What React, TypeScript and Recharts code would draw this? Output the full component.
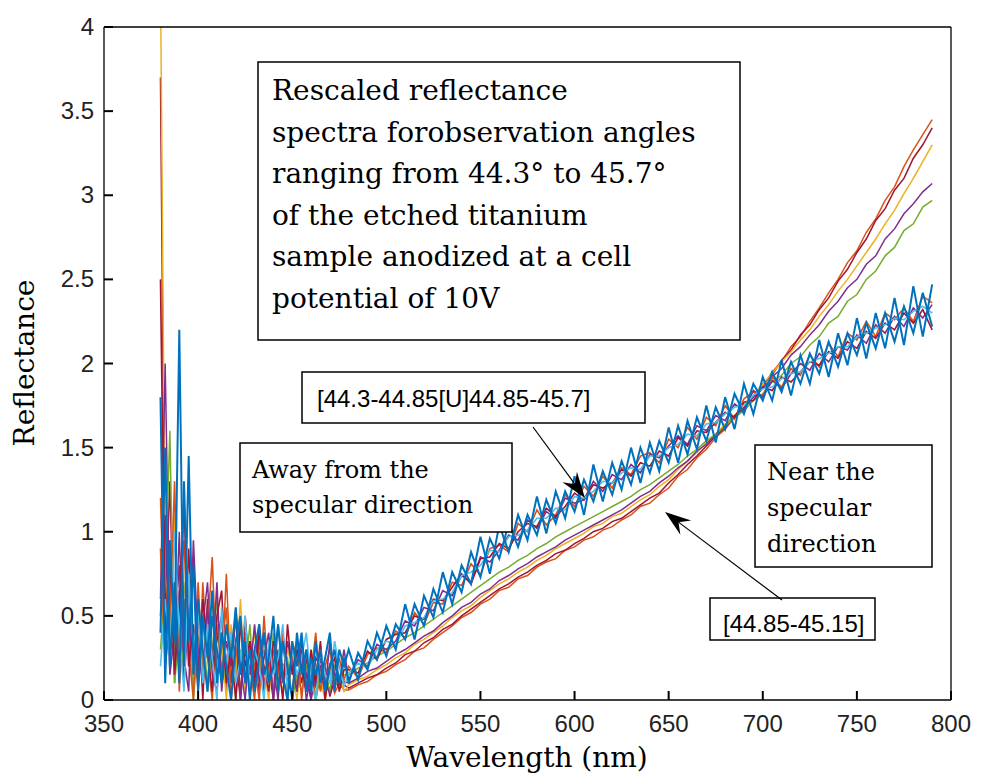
import { Line, LineChart, XAxis, YAxis } from 'recharts'

// wavelength grid: 2.5 nm steps in the noisy blue end, 5 nm after that
const wavelengths = [
  380, 382.5, 385, 387.5, 390, 392.5, 395, 397.5, 400, 402.5,
  405, 407.5, 410, 412.5, 415, 417.5, 420, 422.5, 425, 427.5,
  430, 432.5, 435, 437.5, 440, 442.5, 445, 447.5, 450, 452.5,
  455, 457.5, 460, 462.5, 465, 467.5, 470, 472.5, 475, 477.5,
  480, 485, 490, 495, 500, 505, 510, 515, 520, 525,
  530, 535, 540, 545, 550, 555, 560, 565, 570, 575,
  580, 585, 590, 595, 600, 605, 610, 615, 620, 625,
  630, 635, 640, 645, 650, 655, 660, 665, 670, 675,
  680, 685, 690, 695, 700, 705, 710, 715, 720, 725,
  730, 735, 740, 745, 750, 755, 760, 765, 770, 775,
  780, 785, 790,
]

// near the specular direction [44.85-45.15]
const nearOrange = [
  1.2, 0.3, 0.85, 0.1, 0.6, 0.95, 0.2, 0.4, 0.05, 0.7,
  0.25, 0.0, 0.45, 0.15, 0.75, 0.1, 0.3, 0.05, 0.4, 0.2,
  0.0, 0.35, 0.1, 0.25, 0.05, 0.45, 0.15, 0.0, 0.3, 0.1,
  0.2, 0.05, 0.28, 0.0, 0.15, 0.08, 0.22, 0.04, 0.1, 0.06,
  0.06, 0.09, 0.11, 0.15, 0.17, 0.21, 0.24, 0.29, 0.31, 0.36,
  0.4, 0.44, 0.49, 0.52, 0.57, 0.6, 0.65, 0.67, 0.72, 0.74,
  0.79, 0.82, 0.84, 0.89, 0.91, 0.95, 0.97, 1.01, 1.03, 1.07,
  1.1, 1.15, 1.17, 1.22, 1.26, 1.33, 1.37, 1.44, 1.49, 1.56,
  1.61, 1.68, 1.73, 1.81, 1.86, 1.95, 2.01, 2.1, 2.16, 2.25,
  2.33, 2.42, 2.5, 2.6, 2.67, 2.78, 2.86, 2.97, 3.05, 3.17,
  3.27, 3.36, 3.45,
]
const nearRed = [
  3.7, 0.5, 1.3, 0.2, 0.65, 0.1, 0.9, 0.3, 0.55, 0.0,
  0.6, 0.2, 0.35, 0.5, 0.05, 0.4, 0.25, 0.0, 0.5, 0.15,
  0.3, 0.05, 0.4, 0.2, 0.0, 0.25, 0.35, 0.1, 0.05, 0.3,
  0.1, 0.25, 0.0, 0.18, 0.06, 0.2, 0.02, 0.12, 0.07, 0.09,
  0.07, 0.1, 0.13, 0.15, 0.19, 0.22, 0.27, 0.29, 0.34, 0.37,
  0.42, 0.45, 0.5, 0.54, 0.58, 0.62, 0.66, 0.69, 0.73, 0.76,
  0.8, 0.83, 0.87, 0.89, 0.93, 0.96, 1.0, 1.02, 1.06, 1.08,
  1.12, 1.16, 1.2, 1.23, 1.29, 1.34, 1.4, 1.45, 1.51, 1.57,
  1.62, 1.69, 1.74, 1.8, 1.88, 1.93, 2.02, 2.08, 2.17, 2.23,
  2.32, 2.39, 2.49, 2.56, 2.66, 2.74, 2.85, 2.92, 3.03, 3.1,
  3.22, 3.3, 3.4,
]
const nearYellow = [
  4.3, 0.8, 0.3, 1.1, 0.15, 0.7, 0.4, 0.05, 0.6, 0.25,
  0.1, 0.55, 0.2, 0.35, 0.0, 0.45, 0.15, 0.6, 0.05, 0.25,
  0.4, 0.1, 0.2, 0.0, 0.35, 0.15, 0.05, 0.3, 0.2, 0.0,
  0.25, 0.1, 0.05, 0.22, 0.12, 0.0, 0.18, 0.08, 0.14, 0.05,
  0.09, 0.12, 0.14, 0.18, 0.21, 0.25, 0.28, 0.33, 0.36, 0.4,
  0.44, 0.49, 0.53, 0.56, 0.61, 0.65, 0.69, 0.72, 0.76, 0.79,
  0.83, 0.86, 0.9, 0.93, 0.96, 0.99, 1.03, 1.05, 1.09, 1.11,
  1.15, 1.19, 1.22, 1.27, 1.31, 1.37, 1.42, 1.47, 1.53, 1.58,
  1.64, 1.69, 1.76, 1.81, 1.88, 1.94, 2.01, 2.07, 2.14, 2.2,
  2.28, 2.35, 2.43, 2.5, 2.58, 2.66, 2.74, 2.83, 2.91, 3.01,
  3.1, 3.2, 3.3,
]
const nearPurple = [
  0.6, 2.0, 0.4, 0.25, 1.0, 0.1, 0.5, 0.85, 0.2, 0.45,
  0.7, 0.15, 0.05, 0.4, 0.25, 0.1, 0.55, 0.2, 0.0, 0.35,
  0.15, 0.45, 0.05, 0.3, 0.2, 0.0, 0.4, 0.15, 0.25, 0.05,
  0.3, 0.0, 0.15, 0.08, 0.25, 0.1, 0.04, 0.16, 0.09, 0.11,
  0.1, 0.13, 0.17, 0.19, 0.23, 0.27, 0.3, 0.34, 0.38, 0.41,
  0.46, 0.5, 0.55, 0.58, 0.63, 0.66, 0.71, 0.74, 0.78, 0.81,
  0.85, 0.88, 0.91, 0.95, 0.98, 1.01, 1.04, 1.07, 1.1, 1.13,
  1.17, 1.21, 1.24, 1.29, 1.33, 1.38, 1.42, 1.48, 1.52, 1.58,
  1.62, 1.69, 1.73, 1.8, 1.85, 1.92, 1.97, 2.05, 2.1, 2.17,
  2.23, 2.31, 2.37, 2.45, 2.5, 2.59, 2.64, 2.74, 2.8, 2.89,
  2.95, 3.02, 3.07,
]
const nearGreen = [
  0.3, 0.7, 1.6, 0.1, 0.4, 0.2, 0.75, 0.0, 0.35, 0.5,
  0.05, 0.3, 0.6, 0.1, 0.2, 0.4, 0.0, 0.3, 0.15, 0.45,
  0.05, 0.2, 0.3, 0.1, 0.4, 0.05, 0.2, 0.25, 0.0, 0.15,
  0.05, 0.2, 0.12, 0.0, 0.18, 0.14, 0.06, 0.2, 0.13, 0.15,
  0.15, 0.19, 0.22, 0.26, 0.29, 0.33, 0.37, 0.4, 0.44, 0.48,
  0.52, 0.56, 0.6, 0.64, 0.68, 0.72, 0.76, 0.79, 0.83, 0.86,
  0.9, 0.93, 0.97, 1.0, 1.03, 1.06, 1.09, 1.12, 1.15, 1.18,
  1.21, 1.25, 1.28, 1.32, 1.36, 1.4, 1.45, 1.49, 1.54, 1.58,
  1.63, 1.68, 1.72, 1.78, 1.82, 1.89, 1.93, 2.0, 2.04, 2.11,
  2.16, 2.24, 2.28, 2.37, 2.41, 2.5, 2.55, 2.64, 2.69, 2.79,
  2.83, 2.93, 2.97,
]

// away from the specular direction [44.3-44.85[U]44.85-45.7]
const awayOrange = [
  0.9, 0.2, 0.45, 1.3, 0.05, 0.6, 0.3, 0.0, 0.7, 0.15,
  0.4, 0.85, 0.1, 0.3, 0.55, 0.0, 0.25, 0.45, 0.1, 0.35,
  0.2, 0.0, 0.5, 0.1, 0.3, 0.15, 0.4, 0.05, 0.25, 0.35,
  0.0, 0.3, 0.15, 0.4, 0.05, 0.2, 0.3, 0.1, 0.25, 0.12,
  0.2, 0.13, 0.27, 0.31, 0.28, 0.41, 0.37, 0.52, 0.45, 0.58,
  0.57, 0.7, 0.68, 0.81, 0.74, 0.9, 0.92, 0.88, 1.05, 1.0,
  1.13, 1.04, 1.1, 1.22, 1.15, 1.27, 1.21, 1.33, 1.26, 1.38,
  1.34, 1.45, 1.47, 1.41, 1.55, 1.5, 1.62, 1.55, 1.68, 1.63,
  1.75, 1.67, 1.79, 1.83, 1.81, 1.92, 1.86, 1.97, 1.93, 2.05,
  1.98, 2.12, 2.04, 2.18, 2.14, 2.25, 2.16, 2.3, 2.26, 2.33,
  2.25, 2.4, 2.36,
]
const awayPurple = [
  0.5, 1.1, 0.15, 0.4, 0.8, 0.25, 0.05, 0.95, 0.3, 0.1,
  0.55, 0.2, 0.7, 0.05, 0.35, 0.2, 0.5, 0.0, 0.3, 0.15,
  0.45, 0.1, 0.25, 0.4, 0.0, 0.3, 0.1, 0.35, 0.2, 0.05,
  0.35, 0.15, 0.0, 0.25, 0.2, 0.05, 0.35, 0.15, 0.1, 0.3,
  0.12, 0.24, 0.2, 0.33, 0.3, 0.35, 0.47, 0.44, 0.55, 0.53,
  0.65, 0.62, 0.74, 0.7, 0.85, 0.82, 0.89, 0.98, 0.95, 1.07,
  1.02, 1.12, 1.08, 1.2, 1.17, 1.19, 1.3, 1.24, 1.34, 1.31,
  1.4, 1.35, 1.46, 1.44, 1.51, 1.57, 1.52, 1.63, 1.6, 1.69,
  1.66, 1.76, 1.72, 1.84, 1.8, 1.9, 1.85, 1.94, 2.0, 1.96,
  2.06, 2.01, 2.1, 2.08, 2.17, 2.12, 2.23, 2.18, 2.28, 2.22,
  2.33, 2.27, 2.35,
]
const awayRed = [
  2.5, 0.4, 0.9, 0.15, 0.55, 1.2, 0.2, 0.45, 0.1, 0.6,
  0.3, 0.05, 0.5, 0.65, 0.1, 0.3, 0.0, 0.45, 0.2, 0.35,
  0.1, 0.4, 0.2, 0.05, 0.35, 0.25, 0.0, 0.45, 0.15, 0.3,
  0.2, 0.05, 0.3, 0.1, 0.35, 0.0, 0.2, 0.25, 0.05, 0.18,
  0.18, 0.16, 0.29, 0.24, 0.36, 0.39, 0.4, 0.5, 0.48, 0.6,
  0.59, 0.67, 0.75, 0.69, 0.84, 0.85, 0.93, 0.9, 1.0, 1.05,
  1.03, 1.14, 1.09, 1.15, 1.23, 1.19, 1.28, 1.26, 1.29, 1.37,
  1.33, 1.41, 1.39, 1.48, 1.45, 1.56, 1.51, 1.6, 1.59, 1.65,
  1.71, 1.68, 1.77, 1.78, 1.86, 1.84, 1.92, 1.89, 1.95, 2.01,
  1.99, 2.07, 2.03, 2.13, 2.09, 2.19, 2.15, 2.24, 2.2, 2.3,
  2.24, 2.32, 2.2,
]
const awayCyan = [
  0.2, 0.6, 0.25, 1.0, 0.4, 0.05, 0.75, 0.3, 0.55, 0.1,
  0.45, 0.25, 0.0, 0.55, 0.2, 0.4, 0.1, 0.25, 0.5, 0.05,
  0.3, 0.2, 0.0, 0.35, 0.15, 0.25, 0.45, 0.05, 0.3, 0.15,
  0.25, 0.4, 0.1, 0.0, 0.3, 0.15, 0.1, 0.35, 0.2, 0.08,
  0.16, 0.22, 0.19, 0.3, 0.35, 0.33, 0.44, 0.46, 0.49, 0.59,
  0.6, 0.64, 0.74, 0.76, 0.8, 0.89, 0.88, 0.97, 0.98, 1.01,
  1.08, 1.08, 1.14, 1.13, 1.21, 1.2, 1.24, 1.3, 1.29, 1.35,
  1.38, 1.37, 1.45, 1.45, 1.5, 1.52, 1.58, 1.57, 1.64, 1.65,
  1.7, 1.74, 1.75, 1.81, 1.85, 1.86, 1.91, 1.94, 1.95, 2.01,
  2.03, 2.06, 2.1, 2.1, 2.16, 2.18, 2.21, 2.23, 2.27, 2.26,
  2.31, 2.34, 2.3,
]
const awayBlue1 = [
  1.8, 0.1, 0.95, 0.35, 2.2, 0.2, 1.45, 0.15, 0.6, 0.3,
  0.05, 0.5, 0.3, 0.1, 0.45, 0.25, 0.55, 0.15, 0.35, 0.0,
  0.3, 0.45, 0.15, 0.25, 0.5, 0.05, 0.35, 0.2, 0.0, 0.4,
  0.15, 0.3, 0.05, 0.35, 0.1, 0.25, 0.4, 0.05, 0.3, 0.2,
  0.3, 0.12, 0.35, 0.24, 0.44, 0.3, 0.57, 0.36, 0.62, 0.49,
  0.76, 0.57, 0.8, 0.69, 0.97, 0.75, 1.04, 0.88, 1.1, 0.95,
  1.21, 0.99, 1.24, 1.08, 1.33, 1.1, 1.4, 1.18, 1.41, 1.25,
  1.5, 1.29, 1.53, 1.36, 1.62, 1.41, 1.66, 1.49, 1.75, 1.53,
  1.8, 1.61, 1.88, 1.7, 1.92, 1.78, 2.02, 1.81, 2.05, 1.88,
  2.14, 1.92, 2.18, 1.99, 2.27, 2.03, 2.3, 2.09, 2.39, 2.11,
  2.46, 2.16, 2.47,
]
const awayBlue2 = [
  0.4, 1.5, 0.2, 0.7, 0.1, 1.3, 0.35, 0.8, 0.05, 0.5,
  0.25, 0.65, 0.1, 0.4, 0.2, 0.0, 0.35, 0.5, 0.1, 0.3,
  0.05, 0.25, 0.4, 0.1, 0.2, 0.45, 0.15, 0.0, 0.35, 0.2,
  0.4, 0.05, 0.25, 0.15, 0.3, 0.05, 0.2, 0.3, 0.1, 0.25,
  0.1, 0.28, 0.18, 0.4, 0.26, 0.45, 0.36, 0.57, 0.44, 0.66,
  0.52, 0.76, 0.64, 0.88, 0.73, 0.96, 0.84, 1.05, 0.91, 1.1,
  0.98, 1.19, 1.05, 1.24, 1.12, 1.31, 1.18, 1.36, 1.22, 1.42,
  1.28, 1.5, 1.35, 1.54, 1.41, 1.63, 1.46, 1.68, 1.54, 1.74,
  1.61, 1.82, 1.7, 1.88, 1.78, 1.95, 1.83, 2.01, 1.88, 2.06,
  1.94, 2.13, 1.98, 2.18, 2.05, 2.24, 2.09, 2.3, 2.13, 2.34,
  2.18, 2.42, 2.22,
]

const xTicks = [350, 400, 450, 500, 550, 600, 650, 700, 750, 800]
const yTicks = [0, 0.5, 1, 1.5, 2, 2.5, 3, 3.5, 4]

const series = [
  { key: 'nearOrange', values: nearOrange, color: '#D95319', width: 1.5 },
  { key: 'nearRed', values: nearRed, color: '#A2142F', width: 1.5 },
  { key: 'nearYellow', values: nearYellow, color: '#EDB120', width: 1.5 },
  { key: 'nearPurple', values: nearPurple, color: '#7E2F8E', width: 1.5 },
  { key: 'nearGreen', values: nearGreen, color: '#77AC30', width: 1.5 },
  { key: 'awayOrange', values: awayOrange, color: '#D95319', width: 1.6 },
  { key: 'awayPurple', values: awayPurple, color: '#7E2F8E', width: 1.6 },
  { key: 'awayRed', values: awayRed, color: '#A2142F', width: 1.6 },
  { key: 'awayCyan', values: awayCyan, color: '#4DBEEE', width: 1.6 },
  { key: 'awayBlue1', values: awayBlue1, color: '#0072BD', width: 2 },
  { key: 'awayBlue2', values: awayBlue2, color: '#0072BD', width: 2 },
]

const rows = wavelengths.map((w, i) => {
  const row: Record<string, number> = { w }
  series.forEach((s) => {
    row[s.key] = s.values[i]
  })
  return row
})

const tickFont = { fontFamily: 'Liberation Sans, Arial, sans-serif', fontSize: 24, fill: '#222' }
const serif = 'DejaVu Serif, serif'
const axisStroke = { stroke: '#000', strokeWidth: 1.3 }
const tickStroke = { stroke: '#000', strokeWidth: 2 }

// negative tickSize puts the tick marks inside the box, MATLAB style;
// the labels are pushed back outside here
function BottomLabel({ x, y, payload }: any) {
  return (
    <text x={x} y={y + 41} textAnchor="middle" {...tickFont}>
      {payload.value}
    </text>
  )
}

function LeftLabel({ x, y, payload }: any) {
  return (
    <text x={x - 19} y={y + 8} textAnchor="end" {...tickFont}>
      {payload.value}
    </text>
  )
}

function NoLabel() {
  return <g />
}

function Arrow({ x1, y1, x2, y2 }: { x1: number; y1: number; x2: number; y2: number }) {
  const len = Math.hypot(x2 - x1, y2 - y1)
  const dx = (x2 - x1) / len
  const dy = (y2 - y1) / len
  const L = 26
  const W = 9
  const pts = [
    [x2, y2],
    [x2 - L * dx - W * dy, y2 - L * dy + W * dx],
    [x2 - 0.65 * L * dx, y2 - 0.65 * L * dy],
    [x2 - L * dx + W * dy, y2 - L * dy - W * dx],
  ]
  return (
    <g>
      <line x1={x1} y1={y1} x2={x2 - 0.6 * L * dx} y2={y2 - 0.6 * L * dy} stroke="#000" strokeWidth={1.2} />
      <polygon points={pts.map((p) => p.join(',')).join(' ')} fill="#000" />
    </g>
  )
}

const titleLines = [
  'Rescaled reflectance',
  'spectra forobservation angles',
  'ranging from 44.3° to 45.7°',
  'of the etched titanium',
  'sample anodized at a cell',
  'potential of 10V',
]

export default function App() {
  return (
    <div style={{ position: 'absolute', left: 0, top: 0, width: 998, height: 784, background: '#fff' }}>
      <LineChart width={998} height={784} data={rows} margin={{ top: 26, right: 46, bottom: 34, left: 34 }}>
        <XAxis
          xAxisId="b"
          dataKey="w"
          type="number"
          domain={[350, 800]}
          ticks={xTicks}
          interval={0}
          height={50}
          tickSize={-9}
          tickMargin={0}
          tickLine={tickStroke}
          tick={<BottomLabel />}
          axisLine={axisStroke}
          allowDataOverflow
        />
        <XAxis
          xAxisId="t"
          orientation="top"
          type="number"
          domain={[350, 800]}
          ticks={xTicks}
          interval={0}
          height={1}
          tickSize={-9}
          tickMargin={0}
          tickLine={tickStroke}
          tick={<NoLabel />}
          axisLine={axisStroke}
        />
        <YAxis
          yAxisId="l"
          type="number"
          domain={[0, 4]}
          ticks={yTicks}
          interval={0}
          width={70}
          tickSize={-9}
          tickMargin={0}
          tickLine={tickStroke}
          tick={<LeftLabel />}
          axisLine={axisStroke}
          allowDataOverflow
        />
        <YAxis
          yAxisId="r"
          orientation="right"
          type="number"
          domain={[0, 4]}
          ticks={yTicks}
          interval={0}
          width={1}
          tickSize={-9}
          tickMargin={0}
          tickLine={tickStroke}
          tick={<NoLabel />}
          axisLine={axisStroke}
        />
        {series.map((s) => (
          <Line
            key={s.key}
            xAxisId="b"
            yAxisId="l"
            dataKey={s.key}
            type="linear"
            stroke={s.color}
            strokeWidth={s.width}
            dot={false}
            activeDot={false}
            isAnimationActive={false}
          />
        ))}
      </LineChart>
      <svg width={998} height={784} style={{ position: 'absolute', left: 0, top: 0, pointerEvents: 'none' }}>
        <text x={527} y={767} textAnchor="middle" fontFamily={serif} fontSize={28} fill="#000">
          Wavelength (nm)
        </text>
        <text
          x={34}
          y={363}
          textAnchor="middle"
          transform="rotate(-90 34 363)"
          fontFamily={serif}
          fontSize={28}
          fill="#000"
        >
          Reflectance
        </text>

        <rect x={258} y={62} width={482} height={278} fill="#fff" stroke="#000" strokeWidth={1.5} />
        {titleLines.map((t, i) => (
          <text key={t} x={272} y={100 + i * 41.6} fontFamily={serif} fontSize={28} fill="#000">
            {t}
          </text>
        ))}

        <rect x={302} y={372} width={343} height={51} fill="#fff" stroke="#000" strokeWidth={1.5} />
        <text x={317} y={407} fontFamily="Liberation Sans, Arial, sans-serif" fontSize={24} fill="#000">
          [44.3-44.85[U]44.85-45.7]
        </text>
        <Arrow x1={533} y1={427} x2={585} y2={498} />

        <rect x={240} y={443} width={272} height={89} fill="#fff" stroke="#000" strokeWidth={1.5} />
        <text x={252} y={478} fontFamily={serif} fontSize={24} fill="#000">
          Away from the
        </text>
        <text x={252} y={513} fontFamily={serif} fontSize={24} fill="#000">
          specular direction
        </text>

        <rect x={755} y={445} width={177} height={122} fill="#fff" stroke="#000" strokeWidth={1.5} />
        <text x={767} y={480} fontFamily={serif} fontSize={24} fill="#000">
          Near the
        </text>
        <text x={767} y={516} fontFamily={serif} fontSize={24} fill="#000">
          specular
        </text>
        <text x={767} y={552} fontFamily={serif} fontSize={24} fill="#000">
          direction
        </text>

        <rect x={710} y={598} width={165} height={42} fill="#fff" stroke="#000" strokeWidth={1.5} />
        <text x={723} y={632} fontFamily="Liberation Sans, Arial, sans-serif" fontSize={24} fill="#000">
          [44.85-45.15]
        </text>
        <Arrow x1={782} y1={600} x2={665} y2={512} />
      </svg>
    </div>
  )
}
